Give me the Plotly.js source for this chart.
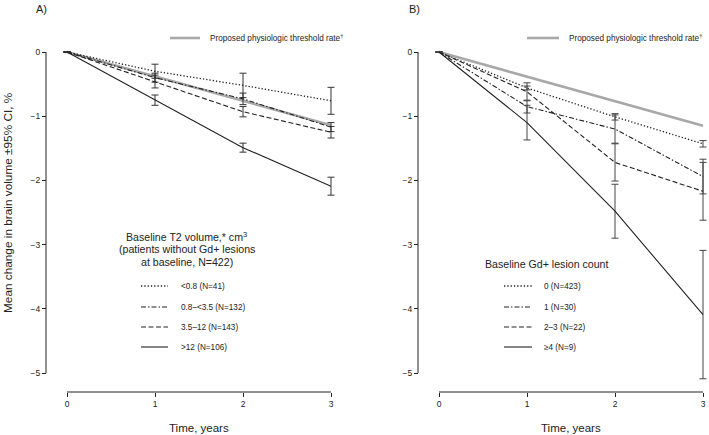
<!DOCTYPE html>
<html>
<head>
<meta charset="utf-8">
<script src="https://cdn.plot.ly/plotly-3.0.1.min.js"></script>
<style>html,body{margin:0;padding:0;background:#fff;}#chart{width:709px;height:435px;}</style>
</head>
<body>
<div id="chart"></div>
<script>
// ---------- data ----------
const years = [0, 1, 2, 3];
const yTicks = [0, -1, -2, -3, -4, -5];
const xTicks = [0, 1, 2, 3];

const thresholdLabel = 'Proposed physiologic threshold rate<sup>†</sup>';
const thresholdA = [0, -0.38, -0.76, -1.14];
const thresholdB = [0, -0.38, -0.77, -1.15];

const groupTitleA = ['Baseline T2 volume,* cm<sup>3</sup>', '(patients without Gd+ lesions', 'at baseline, N=422)'];
const labelsA = ['<0.8 (N=41)', '0.8–<3.5 (N=132)', '3.5–12 (N=143)', '>12 (N=106)'];
const meanA_lt08 = [0, -0.30, -0.52, -0.76];
const errA_lt08 = [null, 0.11, 0.19, 0.21];
const meanA_08to35 = [0, -0.40, -0.73, -1.17];
const errA_08to35 = [null, 0.07, 0.09, 0.07];
const meanA_35to12 = [0, -0.46, -0.93, -1.25];
const errA_35to12 = [null, 0.10, 0.08, 0.09];
const meanA_gt12 = [0, -0.75, -1.49, -2.09];
const errA_gt12 = [null, 0.08, 0.07, 0.14];

const groupTitleB = 'Baseline Gd+ lesion count';
const labelsB = ['0 (N=423)', '1 (N=30)', '2–3 (N=22)', '≥4 (N=9)'];
const meanB_0 = [0, -0.56, -1.01, -1.43];
const errB_0 = [null, 0.03, 0.05, 0.05];
const meanB_1 = [0, -0.85, -1.20, -1.94];
const errB_1 = [null, 0.10, 0.22, 0.27];
const meanB_23 = [0, -0.62, -1.72, -2.17];
const errB_23 = [null, 0.14, 0.29, 0.45];
const meanB_4 = [0, -1.10, -2.48, -4.09];
const errB_4 = [null, 0.27, 0.42, 1.00];

// ---------- styles ----------
const W = 709, H = 435;
const px = v => v / W;
const py = v => 1 - v / H;
const FONT = 'Liberation Sans, Arial, Helvetica, sans-serif';
const INK = '#222';
const dashes = ['1.3px,2px', '5px,2px,1.5px,2px', '5px,2.5px', 'solid'];
const widths = [1.3, 1.1, 1.1, 1.1];
const esc = s => s.replace(/&/g, '&amp;').replace(/</g, '&lt;').replace(/>/g, '&gt;');

function series(x, y, err, i, xa, ya, ecol) {
  return {
    x: x, y: y, xaxis: xa, yaxis: ya, type: 'scatter', mode: 'lines',
    line: {color: INK, width: widths[i], dash: dashes[i]},
    error_y: {type: 'data', array: err, visible: true, color: ecol, thickness: 1, width: 3.5},
    cliponaxis: false, hoverinfo: 'skip'
  };
}
function thresh(x, y, xa, ya) {
  return {x: x, y: y, xaxis: xa, yaxis: ya, type: 'scatter', mode: 'lines',
    line: {color: '#a8a8a8', width: 2.6}, hoverinfo: 'skip'};
}

const data = [
  thresh(years, thresholdA, 'x', 'y'),
  series(years, meanA_lt08, errA_lt08, 0, 'x', 'y', '#333'),
  series(years, meanA_08to35, errA_08to35, 1, 'x', 'y', '#333'),
  series(years, meanA_35to12, errA_35to12, 2, 'x', 'y', '#333'),
  series(years, meanA_gt12, errA_gt12, 3, 'x', 'y', '#333'),
  thresh(years, thresholdB, 'x2', 'y2'),
  series(years, meanB_0, errB_0, 0, 'x2', 'y2', '#444'),
  series(years, meanB_1, errB_1, 1, 'x2', 'y2', '#444'),
  series(years, meanB_23, errB_23, 2, 'x2', 'y2', '#444'),
  series(years, meanB_4, errB_4, 3, 'x2', 'y2', '#444')
];

const yDom = [py(385.84), py(45.58)];
const xAxisPos = py(392);
function xax(domPx) {
  return {domain: [px(domPx[0]), px(domPx[1])], range: [-0.1, 3.06], anchor: 'free', position: xAxisPos,
    tickvals: xTicks, ticktext: xTicks.map(String), ticks: 'outside', ticklen: 4, tickwidth: 1, tickcolor: INK,
    showline: false, showgrid: false, zeroline: false, tickfont: {family: FONT, size: 8.5, color: INK}, fixedrange: true};
}
function yax(posPx) {
  return {domain: yDom, range: [-5.2, 0.1], anchor: 'free', position: px(posPx),
    tickvals: yTicks, ticks: 'outside', ticklen: 4, tickwidth: 1, tickcolor: INK,
    showline: false, showgrid: false, zeroline: false, tickfont: {family: FONT, size: 8.5, color: INK}, fixedrange: true};
}

const shapes = [];
const annotations = [];
function ann(text, x, y, size, xanchor, extra) {
  annotations.push(Object.assign({text: text, x: px(x), y: py(y), xref: 'paper', yref: 'paper',
    xanchor: xanchor || 'center', yanchor: 'middle', showarrow: false,
    font: {family: FONT, size: size, color: INK}}, extra || {}));
}
function lineShape(x0, x1, y, color, width, dash) {
  shapes.push({type: 'line', xref: 'paper', yref: 'paper', x0: px(x0), x1: px(x1), y0: py(y), y1: py(y),
    line: {color: color, width: width, dash: dash}});
}

// axis lines spanning only the data extent (detached axes)
[['x', 'y', 46], ['x2', 'y2', 418]].forEach(([xa, ya, ypos]) => {
  shapes.push({type: 'line', xref: 'paper', yref: ya, x0: px(ypos), x1: px(ypos),
    y0: yTicks[yTicks.length - 1], y1: yTicks[0], line: {color: INK, width: 1}});
  shapes.push({type: 'line', xref: xa, yref: 'paper', x0: xTicks[0], x1: xTicks[xTicks.length - 1],
    y0: xAxisPos, y1: xAxisPos, line: {color: INK, width: 1}});
});

// panel labels and titles
ann('A)', 41, 9, 11);
ann('B)', 414, 9, 11);
ann('Mean change in brain volume ±95% CI, %', 8, 203, 11.8, 'center', {textangle: -90});
ann('Time, years', 199, 428, 11.5);
ann('Time, years', 571, 428, 11.5);

// threshold legends
lineShape(170, 200, 38, '#a8a8a8', 2.6, 'solid');
ann(thresholdLabel, 208, 38, 8.2, 'left');
lineShape(527, 559, 38, '#a8a8a8', 2.6, 'solid');
ann(thresholdLabel, 567, 38, 8.2, 'left');

// group legends
ann(groupTitleA[0], 187, 236, 10.6);
ann(groupTitleA[1], 187, 249, 10.6);
ann(groupTitleA[2], 187, 262, 10.6);
ann(groupTitleB, 546, 264, 10.6);
const entryY = [286, 307, 327, 347];
labelsA.forEach((l, i) => { lineShape(141, 168, entryY[i], INK, widths[i], dashes[i]); ann(esc(l), 179, entryY[i], 8.2, 'left'); });
labelsB.forEach((l, i) => { lineShape(504, 532, entryY[i], INK, widths[i], dashes[i]); ann(esc(l), 542, entryY[i], 8.2, 'left'); });

const layout = {
  width: W, height: H, margin: {l: 0, r: 0, t: 0, b: 0},
  paper_bgcolor: '#fff', plot_bgcolor: '#fff', showlegend: false,
  font: {family: FONT, color: INK},
  xaxis: xax([58.2, 336.28]), yaxis: yax(46),
  xaxis2: xax([430.2, 708.28]), yaxis2: yax(418),
  shapes: shapes, annotations: annotations
};

Plotly.newPlot('chart', data, layout, {staticPlot: true, displayModeBar: false});
</script>
</body>
</html>
